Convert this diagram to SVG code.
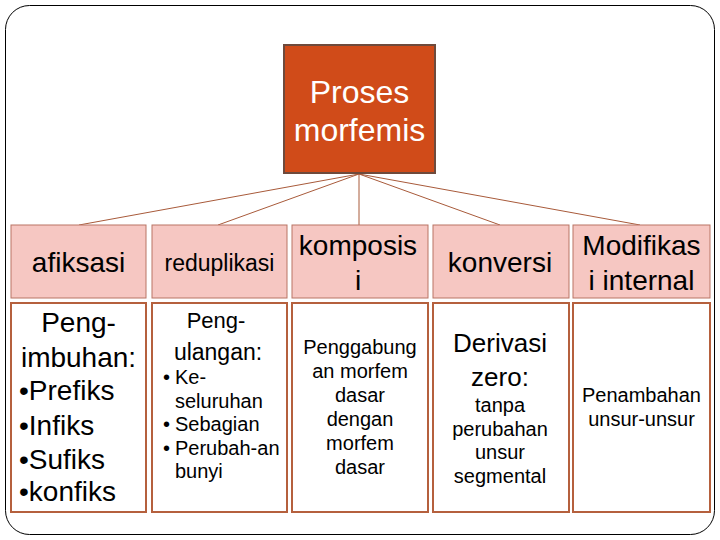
<svg xmlns="http://www.w3.org/2000/svg" width="720" height="540" viewBox="0 0 720 540">
<style>
text{font-family:"Liberation Sans",Arial,sans-serif;fill:#000}
.hd{fill:#F6C7C2;stroke:#B97565;stroke-width:1}
.bd{fill:#fff;stroke:#B5603D;stroke-width:2}
.c{text-anchor:middle}
.conn line{stroke:#A85A3A;stroke-width:1}
</style>
<rect x="5.5" y="5.5" width="709" height="529" rx="24" fill="#fff" stroke="#000" stroke-width="1"/>
<g class="conn">
<line x1="359" y1="174" x2="79" y2="225"/>
<line x1="359" y1="174" x2="218" y2="225"/>
<line x1="359" y1="174" x2="359" y2="225"/>
<line x1="359" y1="174" x2="500" y2="225"/>
<line x1="359" y1="174" x2="640" y2="225"/>
</g>
<g id="root">
<rect x="284" y="45" width="151" height="128" fill="#D04B19" stroke="#6E4A3C" stroke-width="2"/>
<text class="c" x="359.5" y="103" font-size="32" style="fill:#fff">Proses</text>
<text class="c" x="359.5" y="141" font-size="32" style="fill:#fff">morfemis</text>
</g>
<g id="afiksasi">
<rect class="hd" x="11" y="225" width="135" height="73"/>
<text class="c" x="78.5" y="272" font-size="28">afiksasi</text>
<rect class="bd" x="11" y="303" width="135" height="209"/>
<text class="c" x="78.5" y="332" font-size="28">Peng-</text>
<text class="c" x="78.5" y="367" font-size="28">imbuhan:</text>
<text x="19" y="400" font-size="28">•Prefiks</text>
<text x="19" y="435" font-size="28">•Infiks</text>
<text x="19" y="469" font-size="28">•Sufiks</text>
<text x="19" y="501" font-size="28">•konfiks</text>
</g>
<g id="reduplikasi">
<rect class="hd" x="152" y="225" width="135" height="73"/>
<text class="c" x="219.5" y="271" font-size="23">reduplikasi</text>
<rect class="bd" x="152" y="303" width="135" height="209"/>
<text class="c" x="216" y="328" font-size="22">Peng-</text>
<text class="c" x="218" y="360" font-size="23">ulangan:</text>
<text x="163" y="384" font-size="20">•</text><text x="175" y="384" font-size="20">Ke-</text>
<text x="175" y="407.5" font-size="20">seluruhan</text>
<text x="163" y="431" font-size="20">•</text><text x="175" y="431" font-size="20">Sebagian</text>
<text x="163" y="454.5" font-size="20">•</text><text x="175" y="454.5" font-size="20">Perubah-an</text>
<text x="175" y="478" font-size="20">bunyi</text>
</g>
<g id="komposisi">
<rect class="hd" x="292" y="225" width="136" height="73"/>
<text class="c" x="358" y="255" font-size="28">komposis</text>
<text class="c" x="358" y="290" font-size="28">i</text>
<rect class="bd" x="292" y="303" width="136" height="209"/>
<text class="c" x="360" y="354" font-size="20">Penggabung</text>
<text class="c" x="360" y="378" font-size="20">an morfem</text>
<text class="c" x="360" y="402" font-size="20">dasar</text>
<text class="c" x="360" y="426" font-size="20">dengan</text>
<text class="c" x="360" y="450" font-size="20">morfem</text>
<text class="c" x="360" y="474" font-size="20">dasar</text>
</g>
<g id="konversi">
<rect class="hd" x="433" y="225" width="136" height="73"/>
<text class="c" x="500" y="272" font-size="28">konversi</text>
<rect class="bd" x="433" y="303" width="136" height="209"/>
<text class="c" x="500" y="352" font-size="26">Derivasi</text>
<text class="c" x="500" y="386" font-size="26">zero:</text>
<text class="c" x="500" y="412" font-size="20">tanpa</text>
<text class="c" x="500" y="436" font-size="20">perubahan</text>
<text class="c" x="500" y="459" font-size="20">unsur</text>
<text class="c" x="500" y="483" font-size="20">segmental</text>
</g>
<g id="modifikasi">
<rect class="hd" x="573" y="225" width="137" height="73"/>
<text class="c" x="641.5" y="255" font-size="28">Modifikas</text>
<text class="c" x="641.5" y="290" font-size="28">i internal</text>
<rect class="bd" x="573" y="303" width="137" height="209"/>
<text class="c" x="641.5" y="402" font-size="20">Penambahan</text>
<text class="c" x="641.5" y="426" font-size="20">unsur-unsur</text>
</g>
</svg>
